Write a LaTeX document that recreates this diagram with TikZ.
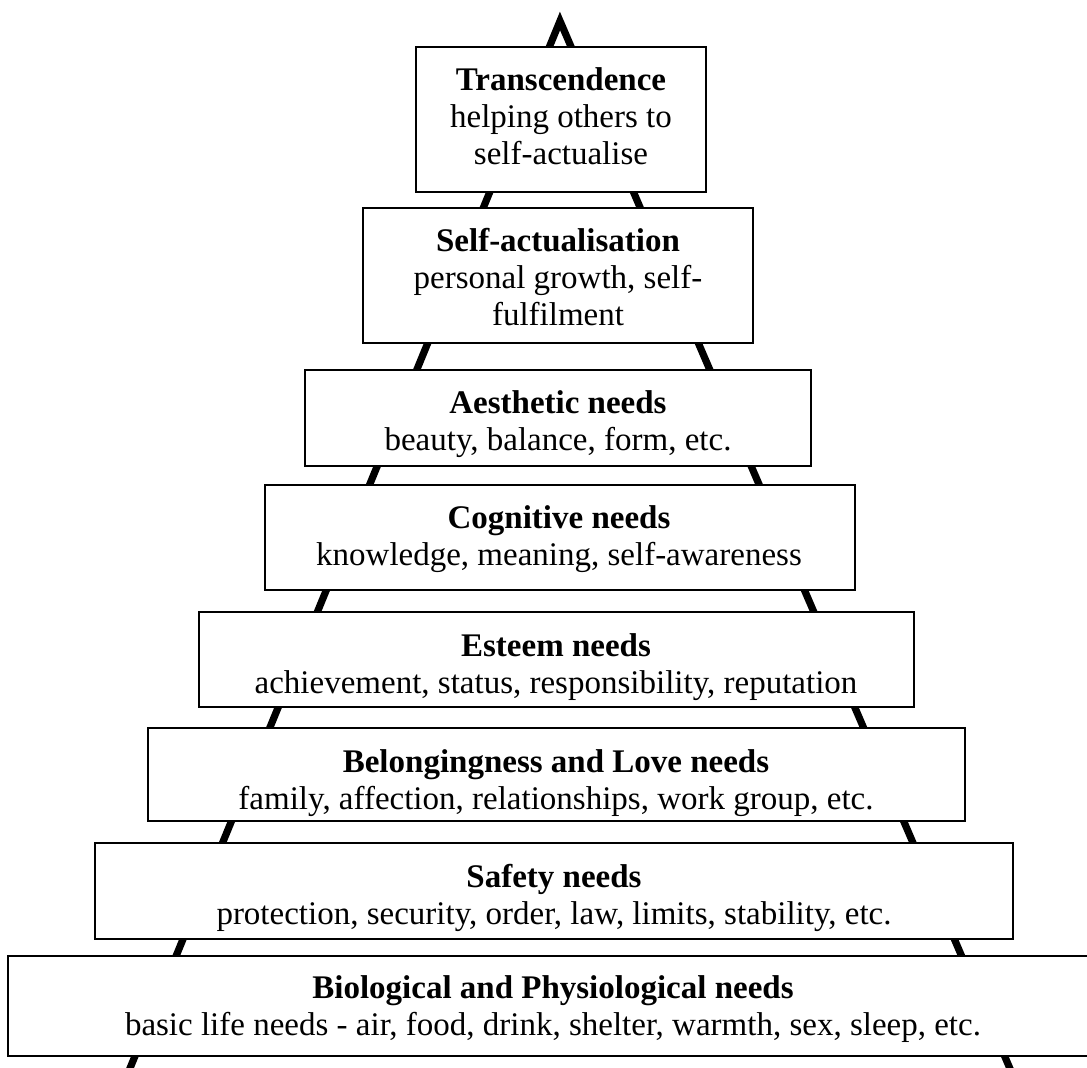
\documentclass[tikz,border=0pt]{standalone}
\usepackage{fontspec}
\setmainfont{Liberation Serif}
\usetikzlibrary{fit}
\begin{document}
\begin{tikzpicture}[x=0.5pt,y=-0.5pt,
  tierbox/.style={draw=black, line width=1.4pt, fill=white, inner sep=0pt, rectangle},
  tiertext/.style={anchor=north, inner sep=0pt, align=center,
    font=\fontsize{16.5pt}{18.6pt}\selectfont},
  frame/.style={line width=3.6pt, line join=miter, miter limit=20}]
\useasboundingbox (0,0) rectangle (1087,1068);
\clip (0,0) rectangle (1087,1068);
\fill[white] (0,0) rectangle (1087,1068);

% pyramid outline behind the tiers
\coordinate (apex) at (560,21);
\coordinate (baseL) at (126,1078);
\coordinate (baseR) at (1014,1078);
\draw[frame] (baseL) -- (apex) -- (baseR);

\newcommand{\tierfirst}{\rule{0pt}{15pt}}

% tiers, top to bottom
\node[tierbox, fit={(416,47) (706,192)}] (trans) {};
\node[tiertext] (trans-t) at (561,60) {\tierfirst\textbf{Transcendence}\\helping others to\\self-actualise};

\node[tierbox, fit={(363,208) (753,343)}] (selfact) {};
\node[tiertext] (selfact-t) at (558,221) {\tierfirst\textbf{Self-actualisation}\\personal growth, self-\\fulfilment};

\node[tierbox, fit={(305,370) (811,466)}] (aesth) {};
\node[tiertext] (aesth-t) at (558,383) {\tierfirst\textbf{Aesthetic needs}\\beauty, balance, form, etc.};

\node[tierbox, fit={(265,485) (855,590)}] (cogn) {};
\node[tiertext] (cogn-t) at (559,498) {\tierfirst\textbf{Cognitive needs}\\knowledge, meaning, self-awareness};

\node[tierbox, fit={(199,612) (914,707)}] (esteem) {};
\node[tiertext] (esteem-t) at (556,626) {\tierfirst\textbf{Esteem needs}\\achievement, status, responsibility, reputation};

\node[tierbox, fit={(148,728) (965,821)}] (belong) {};
\node[tiertext] (belong-t) at (556,742) {\tierfirst\textbf{Belongingness and Love needs}\\family, affection, relationships, work group, etc.};

\node[tierbox, fit={(95,843) (1013,939)}] (safety) {};
\node[tiertext] (safety-t) at (554,857) {\tierfirst\textbf{Safety needs}\\protection, security, order, law, limits, stability, etc.};

\node[tierbox, fit={(8,956) (1094,1056)}] (bio) {};
\node[tiertext] (bio-t) at (553,968) {\tierfirst\textbf{Biological and Physiological needs}\\basic life needs - air, food, drink, shelter, warmth, sex, sleep, etc.};
\end{tikzpicture}
\end{document}
